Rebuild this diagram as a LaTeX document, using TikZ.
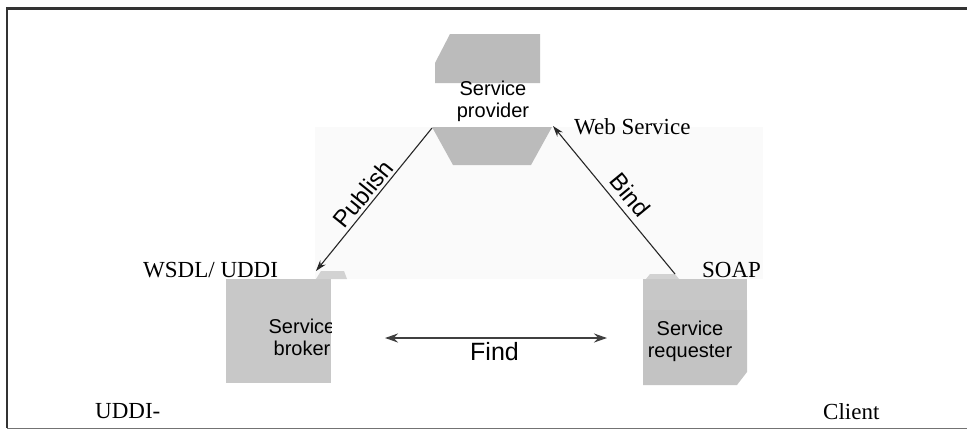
\documentclass[tikz,border=0pt]{standalone}
\usepackage{fontspec}
\setmainfont{Liberation Serif}
\setsansfont{Liberation Sans}
\usetikzlibrary{arrows.meta}
\definecolor{provgray}{HTML}{BBBBBB}
\definecolor{brkgray}{HTML}{C8C8C8}
\definecolor{reqgray}{HTML}{C3C3C3}
\definecolor{reqtop}{HTML}{C7C7C7}
\definecolor{chipgray}{HTML}{D2D2D2}
\definecolor{panel}{HTML}{FAFAFA}
\begin{document}
\begin{tikzpicture}[x=1pt,y=-1pt,
  lbl/.style={font=\fontsize{23}{26}\selectfont, inner sep=0pt, anchor=base west},
  svc/.style={font=\sffamily\fontsize{20}{22}\selectfont, align=center, inner sep=0pt, anchor=center},
  rel/.style={font=\sffamily\fontsize{24}{26}\selectfont, inner sep=0pt, anchor=center},
  conn/.style={draw=black!85, line width=1.1pt, -{Stealth[length=11pt,width=7pt]}},
  findconn/.style={draw=black!75, line width=2pt, {Stealth[length=13pt,width=9pt]}-{Stealth[length=13pt,width=9pt]}}]
\useasboundingbox (0,0) rectangle (967,429);
% frame
\draw[black!55, line width=1pt] (7,428) -- (967,428);
\draw[black!80, line width=2.2pt] (967,8.5) -- (7,8.5) -- (7,428);
% faint panel
\fill[panel] (315,127) rectangle (763,279);
% service provider
\fill[provgray] (450,34) -- (540,34) -- (540,83) -- (435,83) -- (435,63) -- cycle;
\fill[provgray] (432,127) -- (552,127) -- (531,165) -- (453,165) -- cycle;
\node[svc] (prov) at (493,101.8) {Service\\provider};
% service broker
\fill[chipgray] (316,279) -- (321,271) -- (344,271) -- (347,279) -- cycle;
\fill[brkgray] (226,279) rectangle (331,383);
\begin{scope}
  \clip (226,279) rectangle (331,383);
  \node[svc] (brk) at (302,337.7) {Service\\broker};
\end{scope}
% service requester
\fill[chipgray] (646,279) -- (650,274) -- (675,274) -- (679,279) -- cycle;
\fill[reqtop] (643,279) rectangle (747,310);
\fill[reqgray] (643,310) -- (747,310) -- (747,372) -- (737,385) -- (643,385) -- cycle;
\node[svc] (req) at (690,341.8) {Service\\requester};
% connector end points
\coordinate (provSW) at (432,128);
\coordinate (provSE) at (553,126);
\coordinate (brkN) at (316,271);
\coordinate (reqN) at (675,274);
\coordinate (brkE) at (385,338);
\coordinate (reqW) at (607,338);
% connectors
\draw[conn] (provSW) -- (brkN);
\draw[conn] (reqN) -- (provSE);
\draw[findconn] (brkE) -- (reqW);
% relation labels
\node[rel, rotate=51] (publish) at (363,194) {Publish};
\node[rel, rotate=-50.5] (bind) at (630,195) {Bind};
\node[font=\sffamily\fontsize{25}{27}\selectfont, inner sep=0pt, anchor=base] (find) at (494.5,360) {Find};
% technology labels
\node[lbl] (ws) at (574,134) {Web Service};
\node[lbl] (wsdl) at (143,277) {WSDL/ UDDI};
\node[lbl] (soap) at (702,277) {SOAP};
\node[lbl] (uddi) at (95,418) {UDDI-};
\node[lbl] (client) at (823,419) {Client};
\end{tikzpicture}
\end{document}
